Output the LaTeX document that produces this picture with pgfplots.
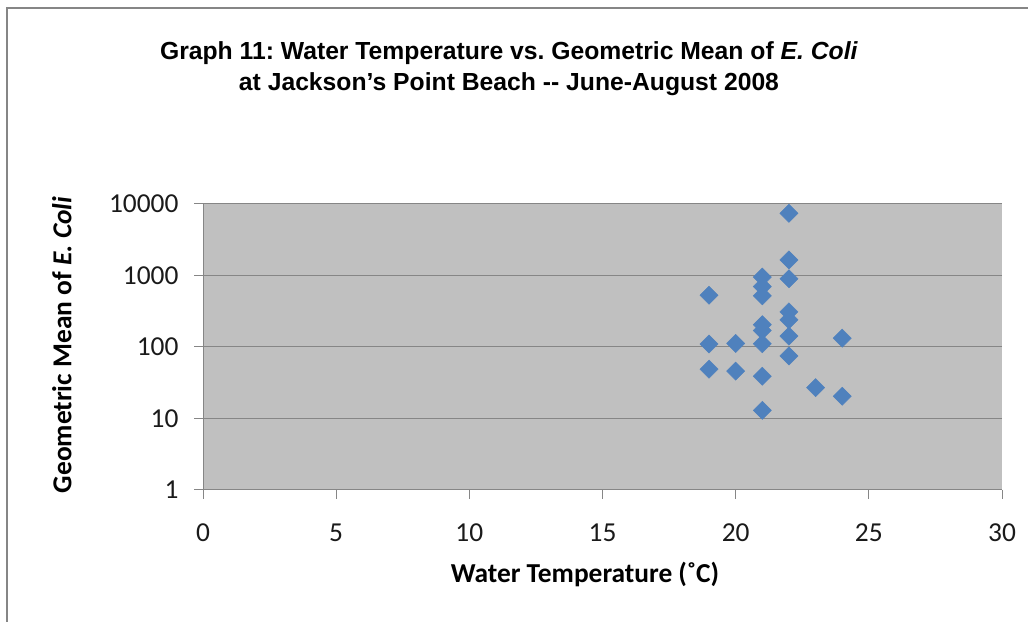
\documentclass[border=0pt]{standalone}
\usepackage{pgfplots}
\pgfplotsset{compat=1.18}
\usepackage{fontspec}
\setmainfont{Carlito}
\newfontfamily\titlefont{Liberation Sans}
\definecolor{plotbg}{HTML}{C0C0C0}
\definecolor{gridc}{HTML}{868686}
\definecolor{markc}{HTML}{4F81BD}
\definecolor{txt}{HTML}{1A1A1A}
\begin{document}
\frenchspacing
\begin{tikzpicture}[x=1bp,y=1bp]
\path[use as bounding box] (0,0) rectangle (1028,622);
\draw[gridc, line width=1.5bp] (7,0) -- (7,614) -- (1028,614);
\node[font=\titlefont\bfseries\fontsize{24.8}{31}\selectfont, align=center, text=black] at (509,553.5)
  {Graph 11: Water Temperature vs. Geometric Mean of \textit{E. Coli}\\at Jackson’s Point Beach -{}- June-August 2008};
\begin{axis}[
  at={(203bp,132bp)}, anchor=south west,
  scale only axis, width=799bp, height=286bp,
  xmin=0, xmax=30, ymode=log, ymin=1, ymax=10000,
  axis lines*=left,
  axis line style={gridc, line width=1bp},
  axis background/.style={fill=plotbg},
  xtick={0,5,10,15,20,25,30},
  xticklabels={0,5,10,15,20,25,30},
  ytick={1,10,100,1000,10000},
  yticklabels={1,10,100,1000,10000},
  minor xtick={}, minor ytick={},
  yminorticks=false, xminorticks=false,
  tick align=outside,
  major tick length=9bp,
  tick style={gridc, line width=1bp},
  ymajorgrids,
  grid style={gridc, line width=1bp},
  ticklabel style={font=\fontsize{27.5}{27.5}\selectfont, text=txt},
  xticklabel style={yshift=-21bp},
  yticklabel style={xshift=-12bp},
  xlabel={\bfseries Water Temperature (˚C)},
  ylabel={\bfseries Geometric Mean of \textit{E. Coli}},
  xlabel style={at={(axis description cs:0.478,-0.297)}, anchor=center, font=\fontsize{27.5}{27.5}\selectfont, text=black},
  ylabel style={at={(axis description cs:-0.1765,0.507)}, anchor=center, rotate=0, font=\fontsize{27.5}{27.5}\selectfont, text=black},
  clip=false,
]
\addplot[only marks, mark=square*, mark size=6.4bp,
  mark options={rotate=45, fill=markc, draw=markc, line width=0.5bp}] coordinates {
(22,7400) (22,1650) (22,900) (21,950) (21,700) (21,520) (19,530)
(22,310) (22,240) (21,205) (21,170) (22,142) (24,133) (21,111)
(19,110) (20,112) (22,75) (19,49) (20,46) (21,39) (23,27) (24,20.5) (21,13)
};
\end{axis}
\end{tikzpicture}
\end{document}
